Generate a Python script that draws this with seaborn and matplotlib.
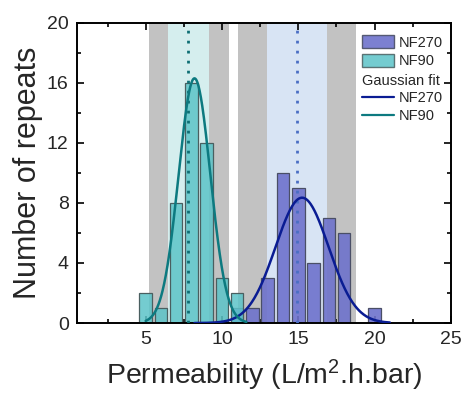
import numpy as np
import pandas as pd
import matplotlib
matplotlib.use("Agg")
import matplotlib.pyplot as plt
from matplotlib.patches import Patch
from matplotlib.lines import Line2D
from matplotlib.ticker import MultipleLocator
import seaborn as sns

# ---- data ----
nf90_bins = [5, 6, 7, 8, 9, 10, 11]
nf90_counts = [2, 1, 8, 16, 12, 3, 2]
nf270_bins = [11, 12, 13, 14, 15, 16, 17, 18, 19, 20]
nf270_counts = [1, 1, 3, 10, 9, 4, 7, 6, 0, 1]

# Gaussian fit parameters (amplitude, centre, sigma) and drawn range
nf90_fit = (16.3, 8.2, 1.04)
nf90_fit_range = (5.0, 11.6)
nf270_fit = (8.35, 15.25, 1.74)
nf270_fit_range = (8.2, 21.0)

# mean and spread bands
nf90_mean = 7.8
nf90_inner = (6.47, 9.16)
nf90_outer = (5.2, 10.46)
nf270_mean = 14.95
nf270_inner = (12.98, 16.9)
nf270_outer = (11.05, 18.8)

xticks = [5, 10, 15, 20, 25]
yticks = [0, 4, 8, 12, 16, 20]

# ---- styling ----
sns.set_style("ticks")
plt.rcParams["font.family"] = ["Liberation Sans", "DejaVu Sans"]
plt.rcParams["mathtext.fontset"] = "custom"
plt.rcParams["mathtext.rm"] = "Liberation Sans"
plt.rcParams["mathtext.it"] = "Liberation Sans"

c90_bar = "#5cc4c8"
c270_bar = "#6e72cc"
c90_line = "#0d7a80"
c270_line = "#0a1c93"
c90_dot = "#0e6f74"
c270_dot = "#4a6ec4"
grey = "#c2c2c2"
c90_band = "#d5eeee"
c270_band = "#d8e4f4"

fig = plt.figure(figsize=(4.61, 3.93), dpi=100)
ax = fig.add_axes([0.167, 0.178, 0.811, 0.764])

# bands
ax.axvspan(*nf90_outer, color=grey, lw=0, zorder=0)
ax.axvspan(*nf90_inner, color=c90_band, lw=0, zorder=0.5)
ax.axvspan(*nf270_outer, color=grey, lw=0, zorder=0)
ax.axvspan(*nf270_inner, color=c270_band, lw=0, zorder=0.5)

# histograms
d270 = pd.DataFrame({"x": np.repeat(nf270_bins, nf270_counts)})
d90 = pd.DataFrame({"x": np.repeat(nf90_bins, nf90_counts)})
sns.histplot(data=d270, x="x", discrete=True, shrink=0.82, color=c270_bar,
             alpha=0.9, edgecolor="#4a4f66", linewidth=0.9, ax=ax, zorder=2)
sns.histplot(data=d90, x="x", discrete=True, shrink=0.82, color=c90_bar,
             alpha=0.85, edgecolor="#4a5f60", linewidth=0.9, ax=ax, zorder=2)

# mean lines
ax.axvline(nf90_mean, color=c90_dot, lw=2.0, ls=(0, (1, 2.6)), zorder=3)
ax.axvline(nf270_mean, color=c270_dot, lw=2.0, ls=(0, (1, 2.6)), zorder=3)

# gaussian fits
def gauss_df(params, rng):
    a, m, s = params
    xs = np.linspace(rng[0], rng[1], 300)
    return pd.DataFrame({"x": xs, "y": a * np.exp(-0.5 * ((xs - m) / s) ** 2)})

sns.lineplot(data=gauss_df(nf270_fit, nf270_fit_range), x="x", y="y",
             color=c270_line, lw=1.8, ax=ax, zorder=4)
sns.lineplot(data=gauss_df(nf90_fit, nf90_fit_range), x="x", y="y",
             color=c90_line, lw=1.8, ax=ax, zorder=4)

ax.set_xlim(0.5, 25)
ax.set_ylim(0, 20)
ax.set_xticks(xticks)
ax.set_yticks(yticks)
ax.xaxis.set_minor_locator(MultipleLocator(2.5))
ax.yaxis.set_minor_locator(MultipleLocator(2))
ax.tick_params(which="both", direction="in", top=True, right=True,
               width=1.2, color="black")
ax.tick_params(which="major", length=5, labelsize=14, pad=6)
ax.tick_params(which="minor", length=3)
for sp in ax.spines.values():
    sp.set_linewidth(1.4)
    sp.set_color("black")

ax.set_xlabel("Permeability (L/m$^2$.h.bar)", fontsize=20.5, labelpad=7)
ax.set_ylabel("Number of repeats", fontsize=22, labelpad=3)

# legends
fs = 10.5
patches = [Patch(facecolor=c270_bar, edgecolor="#4a4f66", alpha=0.9, label="NF270"),
           Patch(facecolor=c90_bar, edgecolor="#4a5f60", alpha=0.85, label="NF90")]
leg1 = ax.legend(handles=patches, loc="upper left", bbox_to_anchor=(0.762, 0.958),
                 frameon=False, fontsize=fs, handlelength=2.2, handleheight=1.0,
                 handletextpad=0.3, labelspacing=0.25, borderpad=0, borderaxespad=0)
ax.add_artist(leg1)
lines = [Line2D([], [], color=c270_line, lw=1.6, label="NF270"),
         Line2D([], [], color=c90_line, lw=1.6, label="NF90")]
leg2 = ax.legend(handles=lines, loc="upper left", bbox_to_anchor=(0.762, 0.828),
                 frameon=False, fontsize=fs, title="Gaussian fit", title_fontsize=fs,
                 alignment="left", handlelength=2.2, handletextpad=0.3,
                 labelspacing=0.25, borderpad=0, borderaxespad=0)
leg2._legend_box.sep = 2

fig.savefig("out.png", dpi=100)
